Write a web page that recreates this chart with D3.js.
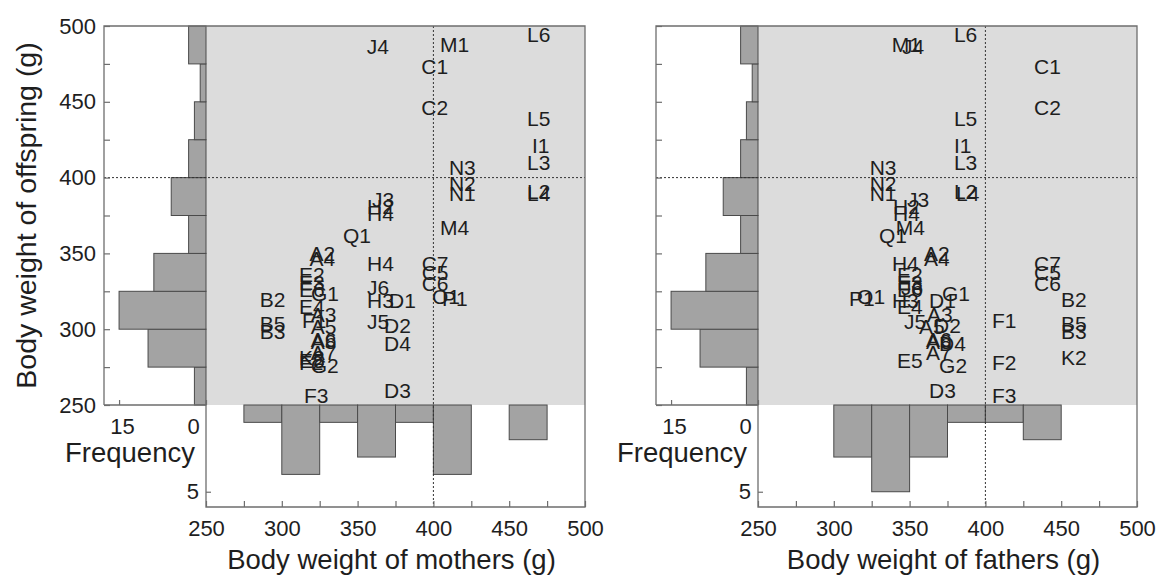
<!DOCTYPE html>
<html><head><meta charset="utf-8">
<script src="https://cdn.jsdelivr.net/npm/d3@7"></script>
<style>
html,body{margin:0;padding:0;background:#fff;}
text{font-family:"Liberation Sans",Arial,sans-serif;fill:#1e1e1e;}
</style></head>
<body><svg id="chart" width="1160" height="582"></svg>
<script>
// ---------- data ----------
const labels = ["J4","M1","L6","C1","C2","L5","I1","L3","L2","L4","N3","N2","N1","J3","H2","H4","M4","Q1","A2","A4","H4","C7","C5","C6","E2","E3","E6","G1","B2","J6","H3","D1","O1","P1","E4","A3","F1","J5","D2","A5","B5","B3","A6","A8","D4","A7","K2","E5","F2","G2","D3","F3"];
const offspringWeight = [486.5,488.1,494.7,473.2,446.6,439.3,421.5,410.3,390.8,389.8,407.0,396.4,389.8,385.9,381.3,376.6,366.8,362.1,350.3,347.0,343.7,343.7,337.7,330.5,335.8,331.1,325.9,323.9,319.9,327.5,319.3,319.3,321.9,320.6,315.3,310.0,306.1,305.4,302.8,302.1,304.1,298.8,293.5,292.2,290.9,285.0,281.7,279.7,278.4,276.4,259.9,256.6];
const motherWeight = [356.7,405.0,462.4,392.7,392.7,462.4,465.7,462.4,462.4,462.4,410.9,410.9,410.9,360.2,356.9,356.9,405.0,341.0,319.0,319.0,356.9,392.9,392.9,392.9,312.0,312.0,312.0,319.9,286.1,356.9,356.9,371.4,399.7,406.3,312.0,319.7,314.0,356.9,368.1,319.7,286.1,286.1,319.7,319.7,368.1,319.7,312.0,312.0,312.0,319.7,368.1,315.3];
const fatherWeight = [345.6,338.9,379.9,432.7,432.7,379.9,379.9,379.9,379.9,381.3,324.3,324.3,324.3,348.9,339.7,339.7,341.5,330.5,360.2,360.2,339.0,432.7,432.7,432.7,342.3,342.3,342.3,372.0,450.5,345.0,339.0,363.5,316.0,310.7,342.3,362.1,405.0,347.0,366.8,356.9,450.5,450.5,361.5,361.5,370.1,361.5,450.5,342.3,405.0,370.1,363.5,405.0];
const binEdges = [250,275,300,325,350,375,400,425,450,475,500];
const offspringFreq = [2,10,15,9,3,6,3,2,1,3];
const motherFreq = [0,1,4,1,3,1,4,0,2,0];
const fatherFreq = [0,0,3,5,3,1,1,2,0,0];
const weightTicks = [250,275,300,325,350,375,400,425,450,475,500];
const freqTicksSide = [15,0];
const freqTicksBottom = [5];
const threshold = 400;
const xTitles = ["Body weight of mothers (g)","Body weight of fathers (g)"];
const yTitle = "Body weight of offspring (g)";
const freqTitle = "Frequency";

// ---------- drawing ----------
const svg = d3.select("#chart");
const FONT_TICK = 22, FONT_LAB = 21, FONT_TITLE = 27.5;
const panels = [
  {dx:0, xs:motherWeight, freq:motherFreq, title:xTitles[0], ylabels:true},
  {dx:552, xs:fatherWeight, freq:fatherFreq, title:xTitles[1], ylabels:false}
];

panels.forEach(p => {
  const g = svg.append("g");
  const x = d3.scaleLinear([250,500],[206+p.dx,585+p.dx]);
  const y = d3.scaleLinear([250,500],[405,26]);
  const hx = d3.scaleLinear([0,17.6],[206+p.dx,104+p.dx]);
  const hy = d3.scaleLinear([0,5.88],[405,507]);

  g.append("rect").attr("x",x(250)).attr("y",y(500))
    .attr("width",x(500)-x(250)).attr("height",y(250)-y(500)).attr("fill","#dcdcdc");

  g.selectAll(".hs").data(offspringFreq.map((c,i)=>({c,i}))).join("rect")
    .filter(d=>d.c>0)
    .attr("x",d=>hx(d.c)).attr("width",d=>hx(0)-hx(d.c))
    .attr("y",d=>y(binEdges[d.i+1])).attr("height",d=>y(binEdges[d.i])-y(binEdges[d.i+1]))
    .attr("fill","#a3a3a3").attr("stroke","#4a4a4a").attr("stroke-width",1);

  g.selectAll(".hb").data(p.freq.map((c,i)=>({c,i}))).join("rect")
    .filter(d=>d.c>0)
    .attr("x",d=>x(binEdges[d.i])).attr("width",d=>x(binEdges[d.i+1])-x(binEdges[d.i]))
    .attr("y",hy(0)).attr("height",d=>hy(d.c)-hy(0))
    .attr("fill","#a3a3a3").attr("stroke","#4a4a4a").attr("stroke-width",1);

  g.append("line").attr("x1",x(threshold)).attr("x2",x(threshold))
    .attr("y1",y(500)).attr("y2",hy.range()[1])
    .attr("stroke","#333").attr("stroke-width",1).attr("stroke-dasharray","2,2");
  g.append("line").attr("x1",hx.range()[1]).attr("x2",x(500))
    .attr("y1",y(threshold)).attr("y2",y(threshold))
    .attr("stroke","#333").attr("stroke-width",1).attr("stroke-dasharray","2,2");

  const fr = "#6e6e6e";
  const L = hx.range()[1], R = x(500), T = y(500), M = y(250), B = hy.range()[1], X0 = x(250);
  g.append("path").attr("d",`M${L},${M}V${T}H${R}V${B}H${X0}V${M}H${L}`)
    .attr("fill","none").attr("stroke",fr).attr("stroke-width",1.3);

  const ay = g.append("g").attr("transform",`translate(${L},0)`)
    .call(d3.axisLeft(y).tickValues(weightTicks).tickSize(-6).tickPadding(8)
      .tickFormat(d => (p.ylabels && d%50===0) ? d : ""));
  const ax = g.append("g").attr("transform",`translate(0,${B})`)
    .call(d3.axisBottom(x).tickValues(weightTicks).tickSize(-6).tickPadding(13)
      .tickFormat(d => d%50===0 ? d : ""));
  const ah = g.append("g").attr("transform",`translate(0,${M})`)
    .call(d3.axisBottom(hx).tickValues(freqTicksSide).tickSize(-5).tickPadding(13)
      .tickFormat(d3.format("d")));
  ah.selectAll(".tick text").attr("dx", d => d===0 ? -13 : 3);
  const ab = g.append("g").attr("transform",`translate(${X0},0)`)
    .call(d3.axisLeft(hy).tickValues(freqTicksBottom).tickSize(-5).tickPadding(7)
      .tickFormat(d3.format("d")));

  [ay,ax,ah,ab].forEach(a=>{
    a.select(".domain").remove();
    a.selectAll(".tick line").attr("stroke",fr).attr("stroke-width",1.2);
    a.selectAll(".tick text").attr("font-size",FONT_TICK)
      .attr("font-family","'Liberation Sans',Arial,sans-serif").attr("fill","#1e1e1e");
  });

  g.append("text").attr("x",(X0+R)/2-4).attr("y",569).attr("text-anchor","middle")
    .attr("font-size",FONT_TITLE).text(p.title);
  g.append("text").attr("x",(L+X0)/2-25).attr("y",462).attr("text-anchor","middle")
    .attr("font-size",FONT_TITLE).text(freqTitle);

  g.selectAll(".lab").data(labels.map((t,i)=>({t, xv:p.xs[i], yv:offspringWeight[i]}))).join("text")
    .attr("x",d=>x(d.xv)-1).attr("y",d=>y(d.yv)).attr("dy","0.36em")
    .attr("font-size",FONT_LAB).attr("fill","#1e1e1e").text(d=>d.t);
});

svg.append("text").attr("transform",`translate(36,${(26+405)/2}) rotate(-90)`)
  .attr("text-anchor","middle").attr("font-size",28.5).text(yTitle);
</script></body></html>
